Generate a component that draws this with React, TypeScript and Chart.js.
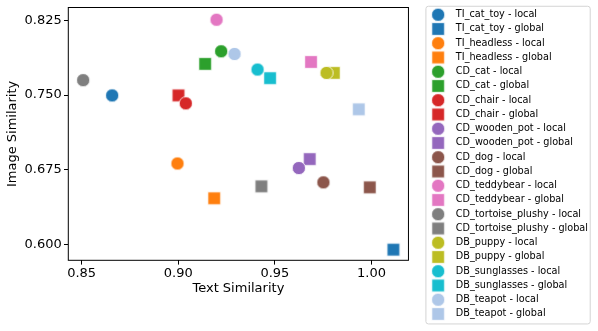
import React, { useEffect, useRef } from "react";
import { Chart, registerables } from "chart.js";

Chart.register(...registerables);

// ---- data ----
const concepts = [
  "TI_cat_toy",
  "TI_headless",
  "CD_cat",
  "CD_chair",
  "CD_wooden_pot",
  "CD_dog",
  "CD_teddybear",
  "CD_tortoise_plushy",
  "DB_puppy",
  "DB_sunglasses",
  "DB_teapot",
];
const colors = [
  "#1f77b4",
  "#ff7f0e",
  "#2ca02c",
  "#d62728",
  "#9467bd",
  "#8c564b",
  "#e377c2",
  "#7f7f7f",
  "#bcbd22",
  "#17becf",
  "#aec7e8",
];
const localText = [0.8658, 0.8996, 0.9222, 0.9039, 0.9624, 0.9751, 0.9198, 0.8508, 0.9767, 0.941, 0.9291];
const localImage = [0.7497, 0.6813, 0.794, 0.7417, 0.6767, 0.6623, 0.8257, 0.765, 0.7723, 0.7757, 0.7913];
const globalText = [1.0113, 0.9186, 0.9139, 0.9001, 0.968, 0.9991, 0.9687, 0.943, 0.9805, 0.9475, 0.9934];
const globalImage = [0.5947, 0.6463, 0.7813, 0.7497, 0.6857, 0.6573, 0.7833, 0.6583, 0.7723, 0.767, 0.7357];
const xTicks = [0.85, 0.9, 0.95, 1.0];
const xTickLabels = ["0.85", "0.90", "0.95", "1.00"];
const yTicks = [0.6, 0.675, 0.75, 0.825];
const yTickLabels = ["0.600", "0.675", "0.750", "0.825"];
const xRange = [0.8431, 1.0191];
const yRange = [0.584, 0.838];

// ---- layout / style constants ----
const W = 598;
const H = 331;
const FONT = "DejaVu Sans";
const TICK_FONT = 13;
const TITLE_FONT = 13;
const LEG_FONT = 9.7;
const LEG_PAD = 4.55;
const LEG_BOX = 25.7;
const LEG_LEFT = 421.6;
const PLOT_LEFT = 68.3;
const PLOT_RIGHT = 409.3;
const PLOT_TOP = 6;
const PLOT_BOTTOM = 260.3;
const BOTTOM_PAD = 2.35;

function makeMarker(color: string, shape: "circle" | "square") {
  const c = document.createElement("canvas");
  c.width = 16;
  c.height = 16;
  const ctx = c.getContext("2d")!;
  ctx.fillStyle = color;
  ctx.strokeStyle = "#ffffff";
  ctx.lineWidth = 0.8;
  ctx.beginPath();
  if (shape === "circle") ctx.arc(8, 8, 6.6, 0, Math.PI * 2);
  else ctx.rect(8 - 6.3, 8 - 6.3, 12.6, 12.6);
  ctx.fill();
  ctx.stroke();
  return c;
}

const framePlugin = {
  id: "frames",
  afterDraw(chart: any) {
    const { ctx, chartArea: a } = chart;
    ctx.save();
    ctx.strokeStyle = "#000";
    ctx.lineWidth = 1;
    ctx.strokeRect(a.left, a.top, a.right - a.left, a.bottom - a.top);
    const lg = chart.legend;
    if (lg && lg.legendHitBoxes && lg.legendHitBoxes.length) {
      const hb = lg.legendHitBoxes;
      const first = hb[0];
      const last = hb[hb.length - 1];
      const left = first.left + 0.6;
      const top = first.top - 3.6;
      const right = left + 164.3;
      const bottom = last.top + 14.85;
      ctx.strokeStyle = "#d4d4d4";
      ctx.lineWidth = 1;
      ctx.beginPath();
      (ctx as any).roundRect(left, top, right - left, bottom - top, 2.5);
      ctx.stroke();
    }
    ctx.restore();
  },
};

export default function App() {
  const ref = useRef<HTMLCanvasElement | null>(null);
  useEffect(() => {
    if (!ref.current) return;
    const datasets: any[] = [];
    concepts.forEach((c, i) => {
      datasets.push({
        label: `${c} - local`,
        data: [{ x: localText[i], y: localImage[i] }],
        pointStyle: makeMarker(colors[i], "circle"),
        pointRadius: 6.5,
        backgroundColor: colors[i],
        borderColor: "#fff",
        xAxisID: "x",
        yAxisID: "y",
      });
      datasets.push({
        label: `${c} - global`,
        data: [{ x: globalText[i], y: globalImage[i] }],
        pointStyle: makeMarker(colors[i], "square"),
        pointRadius: 6.5,
        backgroundColor: colors[i],
        borderColor: "#fff",
        xAxisID: "x",
        yAxisID: "y",
      });
    });

    // legend width to place it precisely
    const mc = document.createElement("canvas").getContext("2d")!;
    mc.font = `${LEG_FONT}px ${FONT}`;
    let maxText = 0;
    datasets.forEach((d) => {
      maxText = Math.max(maxText, mc.measureText(d.label).width);
    });
    const legendW = LEG_PAD + LEG_BOX + LEG_FONT / 2 + maxText + 10;
    const rightPad = Math.max(0, W - LEG_LEFT - legendW);

    const chart = new Chart(ref.current, {
      type: "scatter",
      data: { datasets },
      plugins: [framePlugin],
      options: {
        animation: false,
        responsive: false,
        devicePixelRatio: 1,
        layout: { padding: { top: 0, left: 0, right: rightPad, bottom: BOTTOM_PAD } },
        font: { family: FONT },
        plugins: {
          tooltip: { enabled: false },
          legend: {
            position: "right",
            align: "center",
            maxWidth: 260,
            labels: {
              usePointStyle: true,
              pointStyleWidth: LEG_BOX,
              padding: LEG_PAD,
              color: "#000",
              font: { size: LEG_FONT, family: FONT },
            },
          },
        },
        scales: {
          x: {
            type: "linear",
            axis: "x",
            position: "bottom",
            min: xRange[0],
            max: xRange[1],
            afterBuildTicks: (s: any) => {
              s.ticks = xTicks.map((v) => ({ value: v }));
            },
            ticks: {
              callback: (_v: any, i: number) => xTickLabels[i],
              font: { size: TICK_FONT, family: FONT },
              color: "#000",
              padding: 0.9,
              maxRotation: 0,
              autoSkip: false,
            },
            grid: {
              display: true,
              drawOnChartArea: false,
              drawTicks: true,
              tickLength: 4.3,
              tickColor: "#000",
              tickWidth: 1,
            },
            border: { display: false },
            title: {
              display: true,
              text: "Text Similarity",
              color: "#000",
              font: { size: TITLE_FONT, family: FONT },
              padding: { top: 0, bottom: 32.55 },
            },
            afterFit: (s: any) => {
              s.height = H - BOTTOM_PAD - PLOT_BOTTOM;
              s.paddingLeft = 0;
              s.paddingRight = 0;
            },
          },
          y: {
            type: "linear",
            axis: "y",
            position: "left",
            min: yRange[0],
            max: yRange[1],
            afterBuildTicks: (s: any) => {
              s.ticks = yTicks.map((v) => ({ value: v }));
            },
            ticks: {
              callback: (_v: any, i: number) => yTickLabels[i],
              font: { size: TICK_FONT, family: FONT },
              color: "#000",
              padding: 2.3,
              autoSkip: false,
            },
            grid: {
              display: true,
              drawOnChartArea: false,
              drawTicks: true,
              tickLength: 4.3,
              tickColor: "#000",
              tickWidth: 1,
            },
            border: { display: false },
            title: {
              display: true,
              text: "Image Similarity",
              color: "#000",
              font: { size: TITLE_FONT, family: FONT },
              padding: { top: 4.9, bottom: 0 },
            },
            afterFit: (s: any) => {
              s.width = PLOT_LEFT;
              s.paddingTop = 0;
              s.paddingBottom = 0;
            },
          },
          xTop: {
            type: "linear",
            axis: "x",
            position: "top",
            display: true,
            grid: { display: false },
            ticks: { display: false },
            border: { display: false },
            afterFit: (s: any) => {
              s.height = PLOT_TOP;
              s.paddingLeft = 0;
              s.paddingRight = 0;
            },
          },
          yRight: {
            type: "linear",
            axis: "y",
            position: "right",
            display: true,
            grid: { display: false },
            ticks: { display: false },
            border: { display: false },
            afterFit: (s: any) => {
              s.width = LEG_LEFT - PLOT_RIGHT;
              s.paddingTop = 0;
              s.paddingBottom = 0;
            },
          },
        },
      } as any,
    });
    return () => chart.destroy();
  }, []);

  return (
    <div style={{ position: "fixed", left: 0, top: 0, width: W, height: H, background: "#fff" }}>
      <canvas ref={ref} width={W} height={H} style={{ display: "block" }} />
    </div>
  );
}
